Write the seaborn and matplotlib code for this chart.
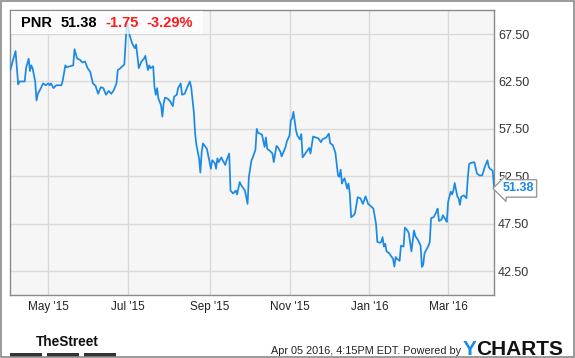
import matplotlib
matplotlib.use("Agg")
import matplotlib.pyplot as plt
import seaborn as sns
import pandas as pd
from matplotlib.patches import Rectangle
import matplotlib.transforms as mtransforms

# ---------------- data ----------------
ticker = "PNR"
last_price = 51.38
change_txt = "-1.75"
pct_txt = "-3.29%"

dates = [
    # Apr 2015
    "2015-04-02", "2015-04-06", "2015-04-08", "2015-04-09", "2015-04-13", "2015-04-14", "2015-04-16", "2015-04-17",
    "2015-04-18", "2015-04-19", "2015-04-21", "2015-04-22", "2015-04-23", "2015-04-25", "2015-04-27", "2015-04-29",
    # May 2015
    "2015-05-01", "2015-05-02", "2015-05-03", "2015-05-05", "2015-05-07", "2015-05-11", "2015-05-12", "2015-05-14",
    "2015-05-15", "2015-05-20", "2015-05-21", "2015-05-23", "2015-05-25", "2015-05-27", "2015-05-29", "2015-05-31",
    # Jun 2015
    "2015-06-02", "2015-06-04", "2015-06-06", "2015-06-08", "2015-06-10", "2015-06-12", "2015-06-14", "2015-06-16",
    "2015-06-18", "2015-06-20", "2015-06-22", "2015-06-23", "2015-06-25", "2015-06-28", "2015-06-29", "2015-06-30",
    # Jul 2015
    "2015-07-02", "2015-07-04", "2015-07-06", "2015-07-07", "2015-07-09", "2015-07-11", "2015-07-13", "2015-07-14",
    "2015-07-16", "2015-07-17", "2015-07-18", "2015-07-20", "2015-07-21", "2015-07-22", "2015-07-23", "2015-07-24",
    "2015-07-26", "2015-07-27", "2015-07-28", "2015-07-29", "2015-07-31",
    # Aug 2015
    "2015-08-02", "2015-08-04", "2015-08-05", "2015-08-07", "2015-08-08", "2015-08-10", "2015-08-11", "2015-08-13",
    "2015-08-15", "2015-08-17", "2015-08-18", "2015-08-20", "2015-08-21", "2015-08-22", "2015-08-24", "2015-08-25",
    "2015-08-26", "2015-08-27", "2015-08-29", "2015-08-30",
    # Sep 2015
    "2015-09-01", "2015-09-02", "2015-09-03", "2015-09-05", "2015-09-06", "2015-09-07", "2015-09-08", "2015-09-10",
    "2015-09-11", "2015-09-13", "2015-09-14", "2015-09-16", "2015-09-17", "2015-09-19", "2015-09-21", "2015-09-22",
    "2015-09-24", "2015-09-25", "2015-09-27", "2015-09-28", "2015-09-30",
    # Oct 2015
    "2015-10-01", "2015-10-03", "2015-10-04", "2015-10-06", "2015-10-07", "2015-10-08", "2015-10-11", "2015-10-13",
    "2015-10-14", "2015-10-15", "2015-10-17", "2015-10-19", "2015-10-20", "2015-10-22", "2015-10-23", "2015-10-25",
    "2015-10-26", "2015-10-29", "2015-10-30",
    # Nov 2015
    "2015-11-01", "2015-11-02", "2015-11-03", "2015-11-04", "2015-11-06", "2015-11-07", "2015-11-09", "2015-11-10",
    "2015-11-11", "2015-11-13", "2015-11-15", "2015-11-16", "2015-11-17", "2015-11-19", "2015-11-21", "2015-11-23",
    "2015-11-25", "2015-11-26", "2015-11-29",
    # Dec 2015
    "2015-12-01", "2015-12-02", "2015-12-04", "2015-12-06", "2015-12-08", "2015-12-09", "2015-12-10", "2015-12-11",
    "2015-12-12", "2015-12-13", "2015-12-15", "2015-12-16", "2015-12-17", "2015-12-18", "2015-12-20", "2015-12-21",
    "2015-12-23", "2015-12-25", "2015-12-27", "2015-12-29", "2015-12-31",
    # Jan 2016
    "2016-01-01", "2016-01-04", "2016-01-06", "2016-01-07", "2016-01-09", "2016-01-10", "2016-01-11", "2016-01-12",
    "2016-01-13", "2016-01-14", "2016-01-16", "2016-01-17", "2016-01-19", "2016-01-20", "2016-01-21", "2016-01-22",
    "2016-01-24", "2016-01-25", "2016-01-27", "2016-01-28", "2016-01-30", "2016-01-31",
    # Feb 2016
    "2016-02-02", "2016-02-04", "2016-02-05", "2016-02-07", "2016-02-09", "2016-02-10", "2016-02-11", "2016-02-12",
    "2016-02-15", "2016-02-16", "2016-02-17", "2016-02-19", "2016-02-21", "2016-02-22", "2016-02-23", "2016-02-25",
    "2016-02-26", "2016-02-28", "2016-02-29",
    # Mar 2016
    "2016-03-01", "2016-03-03", "2016-03-04", "2016-03-05", "2016-03-06", "2016-03-08", "2016-03-09", "2016-03-10",
    "2016-03-11", "2016-03-13", "2016-03-15", "2016-03-16", "2016-03-17", "2016-03-18", "2016-03-21", "2016-03-23",
    "2016-03-25", "2016-03-27", "2016-03-29", "2016-03-31",
    # Apr 2016
    "2016-04-01", "2016-04-02", "2016-04-04", "2016-04-05",
]

prices = [
    # Apr 2015
    63.7, 65.7, 62.2, 62.5, 62.5, 63.9, 64.9, 63.6, 64.2, 63.9, 62.5, 60.5, 61.2, 61.7, 62.3, 62.1,
    # May 2015
    62.3, 62.1, 62.3, 61.8, 62.1, 62.1, 62.6, 64.2, 64.0, 64.2, 65.9, 64.9, 64.8, 64.5, 64.6, 63.9,
    # Jun 2015
    63.5, 62.3, 62.05, 61.2, 61.9, 61.8, 61.1, 61.5, 61.2, 61.6, 62.3, 63.7, 63.9, 64.3, 66.7, 68.8,
    # Jul 2015
    67.4, 66.5, 66.0, 66.4, 63.9, 64.6, 64.9, 65.2, 63.7, 64.2, 63.9, 64.1, 61.9, 61.1, 61.8, 60.7,
    60.0, 58.8, 60.2, 60.8, 60.7,
    # Aug 2015
    60.4, 59.9, 60.9, 61.1, 61.8, 62.3, 61.1, 61.2, 61.9, 62.5, 61.9, 59.3, 57.0, 55.8, 54.4, 52.9,
    55.1, 55.97, 55.6, 55.4,
    # Sep 2015
    54.0, 53.3, 54.2, 53.9, 53.3, 54.4, 54.0, 54.5, 54.2, 53.7, 54.2, 54.9, 51.0, 50.7, 51.0, 50.6,
    51.9, 51.6, 51.2, 51.0, 49.6,
    # Oct 2015
    52.45, 54.2, 54.5, 55.3, 57.5, 57.1, 56.9, 55.6, 56.6, 55.4, 55.2, 54.9, 54.0, 55.7, 55.6, 55.1,
    54.6, 55.6, 56.2,
    # Nov 2015
    56.8, 58.4, 58.6, 59.3, 57.3, 56.8, 56.4, 56.95, 54.5, 54.9, 55.3, 55.5, 54.9, 56.7, 56.6, 56.5,
    56.1, 56.4, 56.6,
    # Dec 2015
    57.0, 56.0, 55.8, 55.0, 52.6, 52.45, 53.2, 51.75, 52.1, 52.3, 51.2, 51.75, 50.7, 48.2, 48.4, 48.65,
    50.3, 50.2, 49.6, 50.4, 49.6,
    # Jan 2016
    49.5, 49.1, 47.5, 45.6, 45.5, 45.6, 46.1, 45.1, 45.4, 44.6, 44.4, 44.2, 43.8, 43.0, 44.0, 43.8,
    43.6, 45.2, 45.1, 47.1, 46.8, 46.5,
    # Feb 2016
    44.6, 46.8, 46.2, 45.8, 45.2, 42.95, 43.2, 44.4, 45.2, 45.6, 48.1, 48.2, 48.75, 49.1, 47.8, 47.95,
    48.4, 47.95, 47.7,
    # Mar 2016
    49.8, 50.9, 50.6, 51.0, 51.8, 50.4, 50.2, 49.5, 50.35, 50.5, 50.2, 52.3, 53.8, 53.9, 54.0, 52.8,
    52.6, 52.6, 53.5, 54.2,
    # Apr 2016
    53.5, 53.3, 53.1, 51.38,
]

y_ticks = [42.5, 47.5, 52.5, 57.5, 62.5, 67.5]
x_tick_dates = ["2015-05-01", "2015-07-01", "2015-09-01", "2015-11-01", "2016-01-01", "2016-03-01"]
x_tick_labels = ["May '15", "Jul '15", "Sep '15", "Nov '15", "Jan '16", "Mar '16"]

assert len(dates) == len(prices), (len(dates), len(prices))

# ---------------- style ----------------
sns.set_style("white")
plt.rcParams['font.family'] = ['Liberation Sans', 'DejaVu Sans']

W, H = 575, 358
fig = plt.figure(figsize=(W / 100, H / 100), dpi=100)
fig.patch.set_facecolor("white")


def fx(px):
    return px / W


def fy(py):
    return 1 - py / H


L, R, T, B = 10.3, 494.0, 10.3, 295.0
ax = fig.add_axes([fx(L), fy(B), fx(R - L), (B - T) / H])
ax.set_facecolor("#f6f6f6")

df = pd.DataFrame({"date": pd.to_datetime(dates), "price": prices})
line_color = "#1a8ae6"
sns.lineplot(data=df, x="date", y="price", ax=ax, color=line_color, linewidth=1.25, zorder=3)

ax.set_xlim(df["date"].min(), df["date"].max())
ax.set_ylim(40, 70)
ax.set_xlabel("")
ax.set_ylabel("")

ax.yaxis.tick_right()
ax.set_yticks(y_ticks)
ax.set_yticklabels([f"{v:.2f}" for v in y_ticks])
ax.set_xticks(pd.to_datetime(x_tick_dates))
ax.set_xticklabels(x_tick_labels)
ax.tick_params(axis="y", length=0, pad=3, labelsize=9, labelcolor="#333333")
ax.tick_params(axis="x", length=0, pad=4.5, labelsize=8.5, labelcolor="#222222")
ax.grid(True, color="#d9d9d9", linewidth=1.0, zorder=0)
ax.set_axisbelow(True)
for s in ax.spines.values():
    s.set_visible(True)
    s.set_color("#8a8a8a")
    s.set_linewidth(1.0)

# header box
fig.patches.append(Rectangle((fx(L + 0.5), fy(34.3)), fx(202 - L), (34.3 - T - 0.5) / H,
                             transform=fig.transFigure, facecolor="white", alpha=0.75,
                             edgecolor="none", zorder=4))
hy = fy(23)
fig.text(fx(21.5), hy, ticker, fontsize=10.5, fontweight="bold", color="black",
         va="center", ha="left", zorder=5)
fig.text(fx(61), hy, f"{last_price:.2f}", fontsize=10.5, fontweight="bold", color="black",
         va="center", ha="left", zorder=5)
fig.text(fx(105.5), hy, change_txt, fontsize=10.5, fontweight="bold", color="#ff1a1a",
         va="center", ha="left", zorder=5)
fig.text(fx(146.5), hy, pct_txt, fontsize=10.5, fontweight="bold", color="#ff1a1a",
         va="center", ha="left", zorder=5)

# last price tag
trans = mtransforms.blended_transform_factory(ax.transAxes, ax.transData)
ax.text(1.0 + 8.5 / (R - L), last_price - 0.15, f"{last_price:.2f}", transform=trans,
        fontsize=9, fontweight="bold", color=line_color, ha="left", va="center",
        clip_on=False, zorder=6,
        bbox=dict(boxstyle="larrow,pad=0.22", facecolor="white", edgecolor="#9a9a9a", linewidth=1.0))

# footer
fig.text(fx(35.5), fy(346.5), "TheStreet", fontsize=9.8, fontweight="bold",
         color="#111111", ha="left", va="baseline")
for x0, x1 in [(9.9, 42.2), (46.9, 78.8), (83.6, 115.5)]:
    fig.patches.append(Rectangle((fx(x0), fy(356.7)), fx(x1 - x0), 3.7 / H,
                                 transform=fig.transFigure, facecolor="#333333", edgecolor="none"))
fig.text(fx(271.4), fy(353.6), "Apr 05 2016, 4:15PM EDT. Powered by", fontsize=7.8,
         color="#222222", ha="left", va="baseline")
fig.text(fx(462.8), fy(355.3), "Y", fontsize=15, fontweight="bold", color="#1a8ae6",
         ha="left", va="baseline")
fig.text(fx(476.5), fy(355.3), "CHARTS", fontsize=15, fontweight="bold", color="#111111",
         ha="left", va="baseline")

# outer border
fig.patches.append(Rectangle((fx(0.8), fy(357.2)), fx(573.4), 356.4 / H, transform=fig.transFigure,
                             facecolor="none", edgecolor="#8a8a8a", linewidth=1.2))

fig.savefig("out.png", dpi=100, facecolor="white")
